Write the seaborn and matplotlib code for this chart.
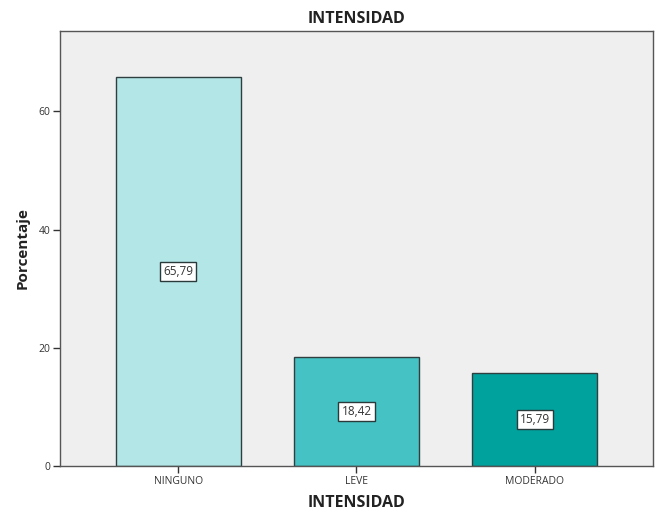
import matplotlib
matplotlib.use("Agg")
import matplotlib.pyplot as plt
import seaborn as sns
import pandas as pd

categories = ["NINGUNO", "LEVE", "MODERADO"]
percentages = [65.79, 18.42, 15.79]
bar_colors = ["#b3e6e7", "#45c2c3", "#00a29e"]
y_ticks = [0, 20, 40, 60]

sns.set_theme(style="white")
plt.rcParams["font.family"] = ["Open Sans", "DejaVu Sans"]

df = pd.DataFrame({"INTENSIDAD": categories, "Porcentaje": percentages})

fig = plt.figure(figsize=(6.62, 5.19), dpi=100)
ax = fig.add_axes([0.0906, 0.1021, 0.8958, 0.8382])
ax.set_facecolor("#efefef")

sns.barplot(data=df, x="INTENSIDAD", y="Porcentaje", hue="INTENSIDAD",
            palette=bar_colors, width=0.70, edgecolor="#2f3f3f",
            linewidth=1.0, legend=False, ax=ax, saturation=1)

for i, v in enumerate(percentages):
    ax.text(i, v / 2, f"{v:.2f}".replace(".", ","), ha="center", va="center",
            fontsize=8.5, color="#333333",
            bbox=dict(boxstyle="square,pad=0.25", facecolor="white",
                      edgecolor="#2a3a3a", linewidth=1.0))

ax.set_xlim(-0.663, 2.663)
ax.set_ylim(0, 73.6)
ax.set_yticks(y_ticks)
ax.set_yticklabels([str(t) for t in y_ticks])

for side in ["top", "right", "left", "bottom"]:
    ax.spines[side].set_visible(True)
    ax.spines[side].set_color("#555555")
    ax.spines[side].set_linewidth(1.0)

ax.tick_params(axis="both", which="both", direction="out", length=5,
               width=1.0, color="#333333", labelsize=7.5, labelcolor="#333333",
               left=True, bottom=True, pad=2)

ax.set_xlabel("INTENSIDAD", fontsize=11.5, fontweight="bold", color="#222222", labelpad=6)
ax.set_ylabel("Porcentaje", fontsize=11, fontweight="bold", color="#222222", labelpad=6)
ax.set_title("INTENSIDAD", fontsize=11.5, fontweight="bold", color="#222222", pad=6)

fig.savefig("out.png", dpi=100, facecolor="white")
